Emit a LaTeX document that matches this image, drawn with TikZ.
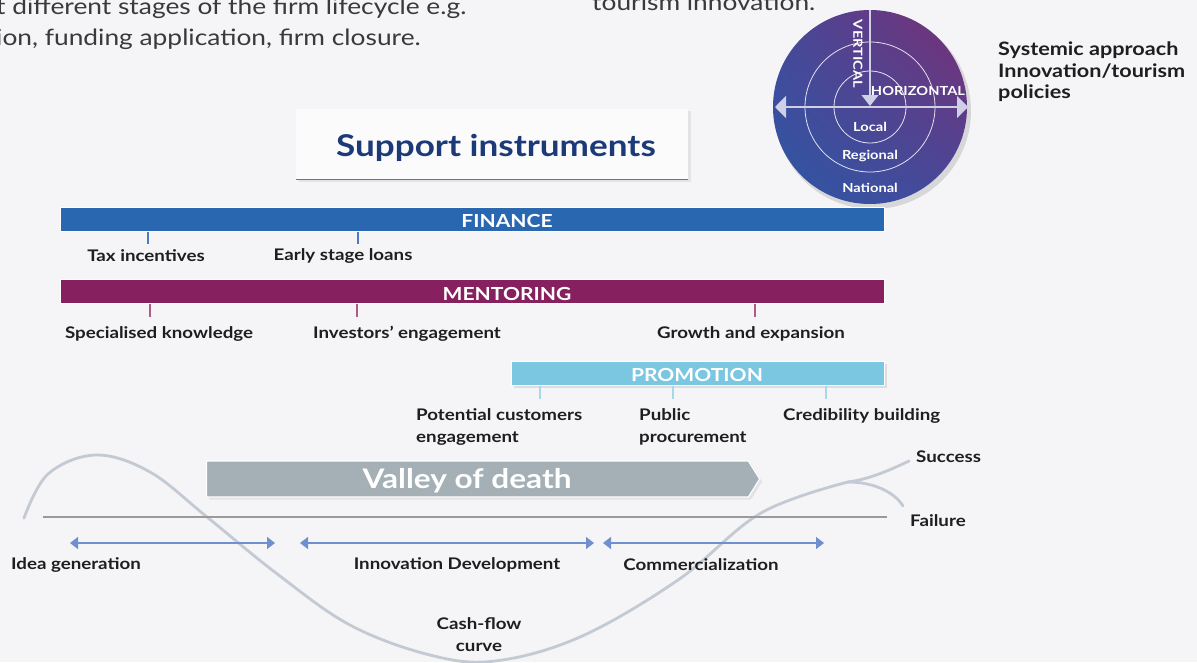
\documentclass[tikz,border=0pt]{standalone}
\usepackage{fontspec}
\setmainfont{Lato}[FakeStretch=1.17]
\usetikzlibrary{arrows.meta,shapes.symbols,shadows,shadings}
\definecolor{bg}{HTML}{F5F4F6}
\definecolor{finblue}{HTML}{2A67B1}
\definecolor{mentor}{HTML}{86205F}
\definecolor{promo}{HTML}{7BC6E0}
\definecolor{fintick}{HTML}{4A7CC0}
\definecolor{mentick}{HTML}{B05A8A}
\definecolor{protick}{HTML}{A7D8EA}
\definecolor{valley}{HTML}{A5B0B6}
\definecolor{stage}{HTML}{6E8FD0}
\definecolor{hline}{HTML}{9A9A9A}
\definecolor{curve}{HTML}{C3CAD4}
\definecolor{title}{HTML}{1D3A78}
\definecolor{cpurple}{HTML}{7A2F73}
\definecolor{cblue}{HTML}{2C57A4}
\definecolor{cmid}{HTML}{47489A}
\definecolor{axis}{HTML}{CFCFE6}
\definecolor{txt}{HTML}{1E1E1E}
\definecolor{graytxt}{HTML}{3A3A3A}
\tikzset{
  lbl/.style={font=\fontsize{16}{19}\selectfont\bfseries, text=txt, inner sep=0pt},
  lbll/.style={lbl, align=left, anchor=north west},
  bar/.style={draw=white, line width=1pt, minimum height=24pt, inner sep=0pt, text=white,
    font=\fontsize{18}{20}\selectfont\bfseries},
  bartxt/.style={text=white, inner sep=0pt, font=\fontsize{18}{20}\selectfont\bfseries},
  ftick/.style={fintick, line width=2.5pt},
  mtick/.style={mentick, line width=2.5pt},
  ptick/.style={protick, line width=2.5pt},
  stagearrow/.style={stage, line width=1.2pt, {Triangle[width=12pt,length=8pt]}-{Triangle[width=12pt,length=8pt]}},
  circtxt/.style={text=white, font=\fontsize{12.5}{15}\selectfont\bfseries, inner sep=0pt},
  toptxt/.style={anchor=west, inner sep=0pt, text=graytxt, font=\fontsize{22.5}{26}\selectfont},
}
\begin{document}
\begin{tikzpicture}[x=1pt,y=-1pt]
\useasboundingbox (0,0) rectangle (1197,662);
\fill[bg] (0,0) rectangle (1197,662);

% top partial texts
\node[toptxt] (top1) at (-4,8) {t different stages of the firm lifecycle e.g.};
\node[toptxt] (top2) at (-4,39) {ion, funding application, firm closure.};
\node[toptxt] (top3) at (592,2) {tourism innovation.};

% circle
\fill[black, opacity=0.12] (873,111) circle (98);
\shade[upper right=cpurple, lower left=cblue, upper left=cmid, lower right=cmid] (870,107) circle (97);
\draw[white, opacity=0.85, line width=0.8pt] (870,107) circle (36);
\draw[white, opacity=0.85, line width=0.8pt] (870,107) circle (65);
\coordinate (vtop) at (870,10);
\coordinate (vbot) at (870,106);
\coordinate (hl) at (775,107);
\coordinate (hr) at (968,107);
\draw[axis, line width=1.2pt, -{Triangle[width=17pt,length=11pt]}] (vtop) -- (vbot);
\draw[axis, line width=1.2pt, {Triangle[width=22pt,length=11pt]}-{Triangle[width=22pt,length=11pt]}] (hl) -- (hr);
\node[circtxt, rotate=-90] (vert) at (858,54) {VERTICAL};
\node[circtxt] (horiz) at (918,91) {HORIZONTAL};
\node[circtxt] (local) at (870,127) {Local};
\node[circtxt] (regional) at (870,156) {Regional};
\node[circtxt] (national) at (870,188) {National};
\node[lbl, align=left, anchor=north west, font=\fontsize{18.5}{21.5}\selectfont\bfseries] (systemic) at (998,42) {Systemic approach\\Innovation/tourism\\policies};

% title box
\node[fill=white!60!bg, minimum width=392pt, minimum height=71pt, drop shadow={opacity=0.15}, inner sep=0pt] (support) at (492,144) {};
\node[font=\fontsize{30}{34}\selectfont\bfseries, text=title, inner sep=0pt] (supporttxt) at (496,148) {Support instruments};
\draw[title!70, line width=1pt] (support.south west) -- (support.south east);

% bars
\node[bar, fill=finblue, minimum width=824pt] (finance) at (472,219) {};
\node[bartxt] (fintxt) at (507,221) {FINANCE};
\node[bar, fill=mentor, minimum width=824pt] (mentoring) at (472,291.5) {};
\node[bartxt] (mentxt) at (507,293.5) {MENTORING};
\node[bar, fill=promo, minimum width=373pt, drop shadow={opacity=0.2}] (promotion) at (697.5,373) {};
\node[bartxt] (protxt) at (697,375) {PROMOTION};

% finance ticks and labels
\coordinate (f1) at (148,244); \coordinate (f2) at (358,244);
\draw[ftick] (finance.south -| f1) -- (f1);
\draw[ftick] (finance.south -| f2) -- (f2);
\node[lbl] (tax) at (146,256) {Tax incentives};
\node[lbl] (early) at (343,256) {Early stage loans};

% mentoring ticks and labels
\coordinate (m1) at (150,317); \coordinate (m2) at (357,317); \coordinate (m3) at (755,317);
\draw[mtick] (mentoring.south -| m1) -- (m1);
\draw[mtick] (mentoring.south -| m2) -- (m2);
\draw[mtick] (mentoring.south -| m3) -- (m3);
\node[lbl] (special) at (159,334) {Specialised knowledge};
\node[lbl] (invest) at (407,334) {Investors’ engagement};
\node[lbl] (growth) at (751,334) {Growth and expansion};

% promotion ticks and labels
\coordinate (p1) at (540,399); \coordinate (p2) at (673,399); \coordinate (p3) at (826,399);
\draw[ptick] (promotion.south -| p1) -- (p1);
\draw[ptick] (promotion.south -| p2) -- (p2);
\draw[ptick] (promotion.south -| p3) -- (p3);
\node[lbll, font=\fontsize{16}{22}\selectfont\bfseries] (potential) at (416,408) {Potential customers\\engagement};
\node[lbll, font=\fontsize{16}{22}\selectfont\bfseries] (public) at (639,408) {Public\\procurement};
\node[lbll] (cred) at (783,408) {Credibility building};

% cash-flow curve
\draw[curve, line width=2.8pt, line cap=round] plot[smooth, tension=0.6] coordinates {(24,518) (48,474) (96,455) (150,472) (207,517) (276,573) (350,625) (430,655) (495,661) (580,637) (678,580) (761,513) (848,482)};
\coordinate (peak) at (848,482);
\coordinate (succ) at (909,461);
\coordinate (fail) at (903,506);
\draw[curve, line width=2.8pt, line cap=round] (peak) .. controls (870,479) and (890,470) .. (succ);
\draw[curve, line width=2.8pt, line cap=round] (peak) .. controls (875,482) and (895,493) .. (fail);

% valley of death
\node[signal, signal to=east, signal pointer angle=116, fill=valley, draw=white, line width=1.2pt,
  minimum width=553pt, minimum height=36pt, inner sep=0pt, drop shadow={opacity=0.15}] (valleyn) at (477.5,479) {};
\node[text=white, font=\fontsize{27}{30}\selectfont\bfseries, inner sep=0pt] (valleytxt) at (467,481) {Valley of death};

% horizontal line
\coordinate (hla) at (43,517);
\coordinate (hlb) at (887,517);
\draw[hline, line width=2.5pt] (hla) -- (hlb);

\node[lbl, anchor=west] (success) at (916,457) {Success};
\node[lbl, anchor=west] (failure) at (910,521) {Failure};

% stage arrows
\coordinate (s1a) at (70,543); \coordinate (s1b) at (275,543);
\coordinate (s2a) at (300,543); \coordinate (s2b) at (594,543);
\coordinate (s3a) at (603,543); \coordinate (s3b) at (824,543);
\draw[stagearrow] (s1a) -- (s1b);
\draw[stagearrow] (s2a) -- (s2b);
\draw[stagearrow] (s3a) -- (s3b);
\node[lbl] (idea) at (76,565) {Idea generation};
\node[lbl] (innov) at (457,565) {Innovation Development};
\node[lbl] (comm) at (701,565) {Commercialization};
\node[lbl, align=center, font=\fontsize{16}{22}\selectfont\bfseries] (cash) at (479,635) {Cash-flow\\curve};
\end{tikzpicture}
\end{document}
